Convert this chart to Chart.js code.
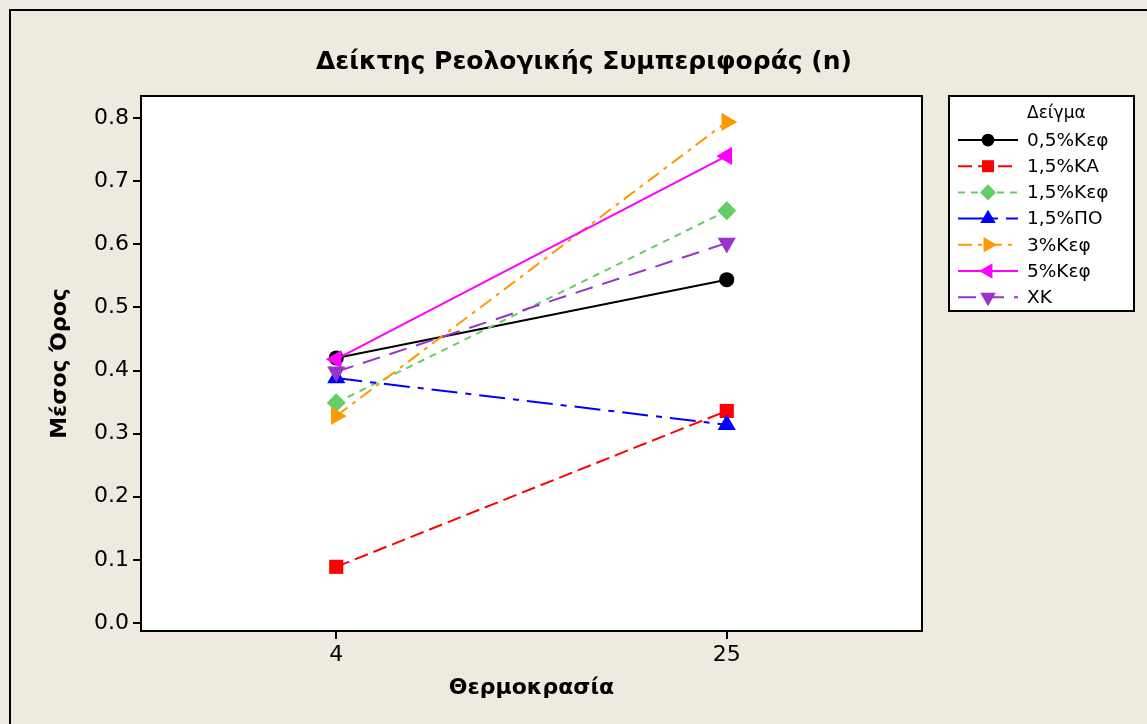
<!DOCTYPE html>
<html>
<head>
<meta charset="utf-8">
<script src="https://cdn.jsdelivr.net/npm/chart.js@4"></script>
<style>
  html, body { margin: 0; padding: 0; background: #eeeae0; }
  #wrap { width: 1147px; height: 724px; position: relative; }
</style>
</head>
<body>
<div id="wrap"><canvas id="myChart" width="1147" height="724"></canvas></div>
<script>
const chartTitle = "Δείκτης Ρεολογικής Συμπεριφοράς (n)";
const xTitle = "Θερμοκρασία";
const yTitle = "Μέσος Όρος";
const legendTitle = "Δείγμα";

// temperature levels (categories)
const temperatures = ["4", "25"];
const yTicks = [0.0, 0.1, 0.2, 0.3, 0.4, 0.5, 0.6, 0.7, 0.8];

// sample names and their means at 4 and 25
const samples = ["0,5%Κεφ", "1,5%ΚΑ", "1,5%Κεφ", "1,5%ΠΟ", "3%Κεφ", "5%Κεφ", "ΧΚ"];
const kef05 = [0.420, 0.544];
const ka15 = [0.089, 0.336];
const kef15 = [0.349, 0.653];
const po15 = [0.388, 0.314];
const kef3 = [0.328, 0.794];
const kef5 = [0.418, 0.740];
const xk = [0.398, 0.602];

const seriesValues = [kef05, ka15, kef15, po15, kef3, kef5, xk];
const colors = ['#000000', '#ff0000', '#66cc66', '#0000ff', '#ff9900', '#ff00ff', '#9933cc'];
const dashes = [[], [14, 6], [7, 6], [26, 8, 6, 8], [14, 6, 4, 6], [], [18, 10]];
const markers = ['circle', 'rect', 'rectRot', 'triangle', 'triangle', 'triangle', 'triangle'];
const markerRot = [0, 0, 0, 0, 90, -90, 180];
const markerSize = [7.5, 10, 9.5, 10.5, 10.5, 10.5, 10.5];

const datasets = samples.map((name, i) => ({
    label: name,
    data: seriesValues[i].map((v, j) => ({x: j, y: v})),
    borderColor: colors[i],
    backgroundColor: colors[i],
    borderWidth: 2,
    borderDash: dashes[i],
    pointStyle: markers[i],
    rotation: markerRot[i],
    pointRadius: markerSize[i],
    pointBorderWidth: 0,
    pointBackgroundColor: colors[i],
    order: samples.length - i,
}));

// white plot area + box, outer frame, title and legend
const decor = {
    id: 'decor',
    beforeDraw(chart) {
        const {ctx, chartArea: a} = chart;
        ctx.save();
        ctx.fillStyle = '#eeeae0';
        ctx.fillRect(0, 0, chart.width, chart.height);
        ctx.strokeStyle = '#000';
        ctx.lineWidth = 2;
        ctx.strokeRect(10, 10, chart.width + 20, chart.height + 20);
        ctx.fillStyle = '#fff';
        ctx.fillRect(a.left, a.top, a.right - a.left, a.bottom - a.top);
        ctx.restore();
    },
    afterDraw(chart) {
        const {ctx, chartArea: a} = chart;
        ctx.save();
        ctx.strokeStyle = '#000';
        ctx.lineWidth = 2;
        ctx.strokeRect(a.left, a.top, a.right - a.left, a.bottom - a.top);

        ctx.fillStyle = '#000';
        ctx.font = 'bold 25px "DejaVu Sans"';
        ctx.textAlign = 'center';
        ctx.textBaseline = 'middle';
        ctx.fillText(chartTitle, 584, 62);

        // legend
        const lx = 949, ly = 96, lw = 185, lh = 215;
        ctx.fillStyle = '#fff';
        ctx.fillRect(lx, ly, lw, lh);
        ctx.lineWidth = 2;
        ctx.strokeRect(lx, ly, lw, lh);
        ctx.fillStyle = '#000';
        ctx.font = '17px "DejaVu Sans"';
        ctx.textAlign = 'left';
        ctx.fillText(legendTitle, 1027, 114);
        samples.forEach((name, i) => {
            const y = 140 + i * 26.2;
            ctx.strokeStyle = colors[i];
            ctx.lineWidth = 2;
            ctx.setLineDash(dashes[i]);
            ctx.beginPath();
            ctx.moveTo(958, y);
            ctx.lineTo(1018, y);
            ctx.stroke();
            ctx.setLineDash([]);
            ctx.fillStyle = colors[i];
            Chart.helpers.drawPoint(ctx, {
                pointStyle: markers[i], rotation: markerRot[i],
                radius: markerSize[i] * 0.85, borderWidth: 0
            }, 988, y);
            ctx.fillStyle = '#000';
            ctx.font = '18.5px "DejaVu Sans"';
            ctx.fillText(name, 1027, y + 1);
        });
        ctx.restore();
    }
};

const ctx = document.getElementById('myChart').getContext('2d');
const chart = new Chart(ctx, {
    type: 'line',
    data: { datasets: datasets },
    plugins: [decor],
    options: {
        responsive: false,
        animation: false,
        layout: { padding: { top: 96, right: 225, left: 0, bottom: 0 } },
        plugins: {
            legend: { display: false },
            tooltip: { enabled: false },
            title: { display: false }
        },
        scales: {
            x: {
                type: 'linear',
                min: -0.5,
                max: 1.5,
                afterFit: s => { s.height = 93; },
                afterBuildTicks: s => { s.ticks = temperatures.map((t, i) => ({value: i})); },
                ticks: {
                    color: '#000',
                    font: { family: 'DejaVu Sans', size: 22 },
                    padding: 3,
                    callback: v => temperatures[v]
                },
                grid: { drawOnChartArea: false, drawTicks: true, tickLength: 8, color: '#000', lineWidth: 2 },
                border: { display: true, color: '#000', width: 2 },
                title: {
                    display: true, text: xTitle, color: '#000',
                    font: { family: 'DejaVu Sans', size: 22, weight: 'bold' },
                    padding: { top: 0, bottom: 23 }
                }
            },
            y: {
                type: 'linear',
                min: -0.0127,
                max: 0.835,
                afterFit: s => { s.width = 141; },
                afterBuildTicks: s => { s.ticks = yTicks.map(v => ({value: v})); },
                ticks: {
                    color: '#000',
                    font: { family: 'DejaVu Sans', size: 22 },
                    padding: 4,
                    callback: v => v.toFixed(1)
                },
                grid: { drawOnChartArea: false, drawTicks: true, tickLength: 8, color: '#000', lineWidth: 2 },
                border: { display: true, color: '#000', width: 2 },
                title: {
                    display: true, text: yTitle, color: '#000',
                    font: { family: 'DejaVu Sans', size: 22, weight: 'bold' },
                    padding: { top: 47, bottom: 0 }
                }
            }
        }
    }
});
</script>
</body>
</html>
